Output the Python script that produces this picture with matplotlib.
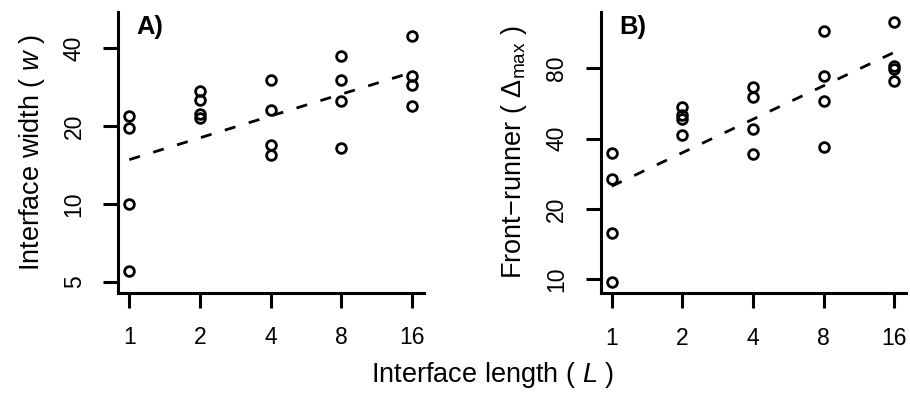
import numpy as np
import matplotlib
matplotlib.use("Agg")
import matplotlib.pyplot as plt

plt.rcParams['font.family'] = ['Liberation Sans', 'DejaVu Sans']
plt.rcParams['mathtext.fontset'] = 'custom'
plt.rcParams['mathtext.rm'] = 'Liberation Sans'
plt.rcParams['mathtext.it'] = 'Liberation Sans:italic'
plt.rcParams['mathtext.bf'] = 'Liberation Sans:bold'

# Data
lengths = [1, 2, 4, 8, 16]
width_A = {
    1: [21.8, 19.7, 10.0, 5.5],
    2: [27.4, 25.2, 22.2, 21.5],
    4: [30.2, 23.0, 16.9, 15.4],
    8: [37.4, 30.2, 25.1, 16.4],
    16: [44.6, 31.3, 28.9, 24.0],
}
front_B = {
    1: [34.8, 26.9, 15.8, 9.7],
    2: [54.5, 50.5, 48.6, 41.5],
    4: [66.4, 60.2, 43.9, 34.3],
    8: [116.0, 74.2, 58.0, 37.0],
    16: [126.0, 81.9, 79.5, 70.9],
}
xticks = [1, 2, 4, 8, 16]
yticks_A = [5, 10, 20, 40]
yticks_B = [10, 20, 40, 80]

W, H = 910, 395
fig = plt.figure(figsize=(W / 100, H / 100), dpi=100)

def px_axes(left, top, right, bottom):
    return fig.add_axes([left / W, 1 - bottom / H, (right - left) / W, (bottom - top) / H])

axA = px_axes(118.3, 11.7, 424, 292.5)
axB = px_axes(600.7, 11.7, 906.4, 293.3)

lw_sp = 2.2
fs = 16.5
fs_lab = 19.5

def style(ax, data, yticks, ylim, ylabel, tag):
    xs, ys = [], []
    for L in lengths:
        for v in data[L]:
            xs.append(L)
            ys.append(v)
    xs = np.array(xs, float)
    ys = np.array(ys, float)
    ax.plot(xs, ys, linestyle='none', marker='o', ms=7.0, mfc='none',
            mec='black', mew=2.0, zorder=3, clip_on=False)
    b, a = np.polyfit(np.log(xs), np.log(ys), 1)
    xl = np.array([min(lengths), max(lengths)], float)
    ax.plot(xl, np.exp(a + b * np.log(xl)), color='black', lw=2.0,
            linestyle=(0, (4.0, 5.0)), dash_capstyle='butt', zorder=2)
    ax.set_xscale('log')
    ax.set_yscale('log')
    ax.set_xlim(0.898, 18.0)
    ax.set_ylim(*ylim)
    ax.set_xticks(xticks)
    ax.set_xticklabels([str(t) for t in xticks])
    ax.set_yticks(yticks)
    ax.set_yticklabels([str(t) for t in yticks], rotation=90, va='center')
    ax.xaxis.set_minor_locator(matplotlib.ticker.NullLocator())
    ax.yaxis.set_minor_locator(matplotlib.ticker.NullLocator())
    for s in ['top', 'right']:
        ax.spines[s].set_visible(False)
    for s in ['left', 'bottom']:
        ax.spines[s].set_linewidth(lw_sp)
        ax.spines[s].set_capstyle('projecting')
    ax.tick_params(axis='both', length=11, width=lw_sp, labelsize=fs)
    ax.tick_params(axis='x', pad=13)
    ax.tick_params(axis='y', pad=12.5)
    ax.set_ylabel(ylabel, fontsize=fs_lab, labelpad=11.5)
    ax.text(0.06, 0.987, tag, transform=ax.transAxes, fontsize=18.4, fontweight='bold',
            ha='left', va='top')

style(axA, width_A, yticks_A, (4.545, 55.4), r'Interface width ( $\mathit{w}$ )', 'A)')
style(axB, front_B, yticks_B, (8.71, 140.0), r'Front$-$runner ( $\Delta_{\mathrm{max}}$ )', 'B)')

fig.text(492.5 / W, 1 - 375 / H, r'Interface length ( $\mathit{L}$ )', fontsize=fs_lab,
         ha='center', va='center')

fig.savefig('out.png', dpi=100)
